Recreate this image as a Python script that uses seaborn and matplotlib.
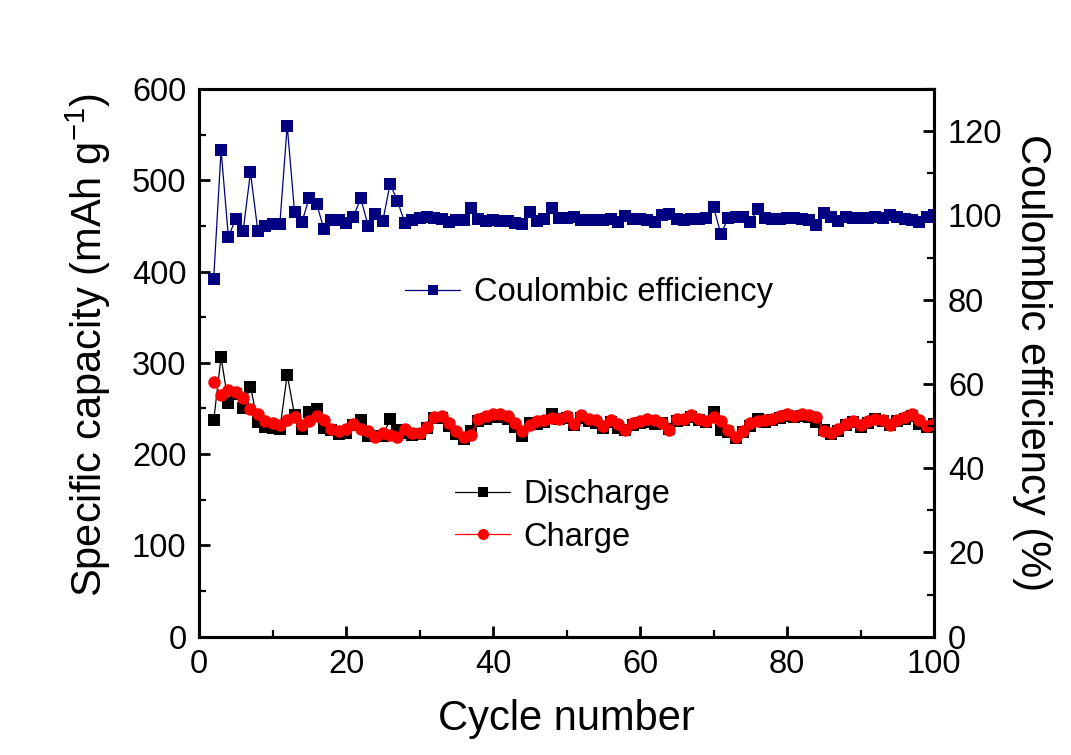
import numpy as np
import pandas as pd
import matplotlib
matplotlib.use("Agg")
import matplotlib.pyplot as plt
from matplotlib.lines import Line2D
from matplotlib.ticker import MultipleLocator
import seaborn as sns

# ---------------- data ----------------
cycles = list(range(2, 101))

discharge = [237, 306, 256, 266, 251, 274, 235, 230, 229, 227,
             287, 243, 228, 246, 249, 229, 226, 222, 223, 232,
             237, 220, 220, 220, 238, 226, 223, 221, 222, 229,
             240, 240, 231, 222, 217, 225, 236, 239, 241, 241,
             239, 230, 220, 234, 233, 235, 244, 238, 240, 232,
             240, 236, 234, 229, 235, 229, 226, 232, 234, 235,
             233, 234, 227, 236, 237, 241, 237, 235, 246, 226,
             224, 218, 224, 231, 239, 235, 237, 240, 242, 241,
             242, 241, 235, 226, 222, 225, 232, 235, 230, 234,
             238, 236, 232, 236, 239, 242, 233, 230, 233]

charge = [279, 265, 270, 268, 261, 249, 244, 236, 234, 232,
          237, 241, 232, 236, 242, 237, 228, 225, 227, 233,
          228, 225, 219, 223, 221, 219, 227, 223, 223, 230,
          241, 242, 234, 225, 219, 221, 238, 242, 244, 244,
          242, 234, 225, 232, 236, 237, 240, 239, 242, 233,
          243, 239, 237, 231, 237, 233, 226, 234, 236, 238,
          237, 234, 226, 238, 239, 243, 239, 236, 241, 236,
          226, 219, 225, 234, 236, 237, 239, 242, 244, 242,
          244, 243, 241, 225, 223, 228, 233, 236, 232, 236,
          239, 237, 232, 237, 241, 244, 237, 231, 233]

coulombic = [85.0, 115.5, 94.9, 99.2, 96.3, 110.2, 96.4, 97.6, 97.9, 98.0,
             121.3, 100.8, 98.4, 104.2, 102.8, 96.7, 99.0, 98.8, 98.2, 99.6,
             104.1, 97.6, 100.4, 98.6, 107.5, 103.4, 98.3, 99.0, 99.4, 99.6,
             99.4, 99.2, 98.5, 98.8, 99.0, 101.7, 99.2, 98.6, 98.8, 98.7,
             98.6, 98.3, 98.0, 100.8, 98.6, 99.2, 101.8, 99.4, 99.3, 99.6,
             98.9, 98.9, 98.9, 99.0, 99.2, 98.4, 99.9, 99.1, 99.1, 98.8,
             98.5, 100.1, 100.3, 99.2, 99.0, 99.2, 99.1, 99.4, 102.0, 95.6,
             99.3, 99.5, 99.6, 98.5, 101.4, 99.3, 99.1, 99.2, 99.3, 99.4,
             99.2, 99.0, 97.7, 100.6, 99.6, 98.7, 99.5, 99.4, 99.3, 99.3,
             99.5, 99.4, 100.2, 99.5, 99.2, 99.0, 98.4, 99.6, 100.0]

x_label = "Cycle number"
y_label = r"Specific capacity (mAh g$^{\mathregular{-1}}$)"
y2_label = "Coulombic efficiency (%)"
series_names = ["Discharge", "Charge", "Coulombic efficiency"]

df = pd.DataFrame({"cycle": cycles, "discharge": discharge,
                   "charge": charge, "ce": coulombic})

# ---------------- style ----------------
sns.set_style("ticks")
plt.rcParams["font.family"] = ["Liberation Sans", "DejaVu Sans"]
plt.rcParams["mathtext.fontset"] = "custom"
plt.rcParams["mathtext.rm"] = "Liberation Sans"
plt.rcParams["mathtext.it"] = "Liberation Sans:italic"
for key in ("text.color", "axes.labelcolor", "xtick.color", "ytick.color",
            "axes.edgecolor"):
    plt.rcParams[key] = "black"

TICK_FS = 23.5
LABEL_FS = 30
LEG_FS = 23.5
NAVY = "#000080"

fig = plt.figure(figsize=(10.71, 7.55), dpi=100)
ax = fig.add_axes([199/1071, 1 - 636.7/755, (934 - 199)/1071, (636.7 - 89)/755])
ax2 = ax.twinx()

sns.lineplot(data=df, x="cycle", y="discharge", ax=ax, color="black",
             marker="s", markersize=8, markeredgewidth=0, linewidth=0.9)
sns.lineplot(data=df, x="cycle", y="charge", ax=ax, color="#ff0000",
             marker="o", markersize=9, markeredgewidth=0, linewidth=0.9)
sns.lineplot(data=df, x="cycle", y="ce", ax=ax2, color=NAVY,
             marker="s", markersize=8, markeredgewidth=0, linewidth=0.9)

ax.set_xlim(0, 100)
ax.set_ylim(0, 600)
ax2.set_ylim(0, 130)

ax.xaxis.set_major_locator(MultipleLocator(20))
ax.xaxis.set_minor_locator(MultipleLocator(10))
ax.yaxis.set_major_locator(MultipleLocator(100))
ax.yaxis.set_minor_locator(MultipleLocator(50))
ax2.yaxis.set_major_locator(MultipleLocator(20))
ax2.yaxis.set_minor_locator(MultipleLocator(10))

for a in (ax, ax2):
    for s in a.spines.values():
        s.set_linewidth(2.2)
        s.set_color("black")

ax.tick_params(axis="both", which="major", direction="in", length=8, width=2,
               labelsize=TICK_FS, pad=9, top=False, right=False,
               colors="black")
ax.tick_params(axis="both", which="minor", direction="in", length=5, width=1.6,
               top=False, right=False, colors="black")
ax.tick_params(axis="x", which="major", pad=9)
ax2.tick_params(axis="y", which="major", direction="in", length=8, width=2,
                labelsize=TICK_FS, pad=10, colors="black")
ax2.tick_params(axis="y", which="minor", direction="in", length=5, width=1.6,
                colors="black")

ax.set_xlabel(x_label, fontsize=LABEL_FS, color="black")
ax.set_ylabel(y_label, fontsize=LABEL_FS, color="black")
ax2.set_ylabel(y2_label, fontsize=LABEL_FS, rotation=270, va="bottom",
               color="black")
ax.xaxis.set_label_coords(0.5, -0.114)
ax.yaxis.set_label_coords(-0.117, 0.533)
ax2.yaxis.set_label_coords(1.106, 0.5)

# legends
h_ce = Line2D([], [], color=NAVY, marker="s", markersize=7,
              markeredgewidth=0, linewidth=0.9)
h_dis = Line2D([], [], color="black", marker="s", markersize=7,
               markeredgewidth=0, linewidth=0.9)
h_ch = Line2D([], [], color="#ff0000", marker="o", markersize=8,
              markeredgewidth=0, linewidth=0.9)

leg1 = fig.legend([h_ce], [series_names[2]], loc="center left",
                  bbox_to_anchor=(405/1071, 1 - 293/755), frameon=False,
                  fontsize=LEG_FS, handlelength=1.7, handletextpad=0.4,
                  borderpad=0, borderaxespad=0)
leg2 = fig.legend([h_dis, h_ch], series_names[:2], loc="center left",
                  bbox_to_anchor=(455/1071, 1 - 516/755), frameon=False,
                  fontsize=LEG_FS, handlelength=1.7, handletextpad=0.4,
                  borderpad=0, borderaxespad=0, labelspacing=0.36)

fig.savefig("out.png", dpi=100, facecolor="white")
